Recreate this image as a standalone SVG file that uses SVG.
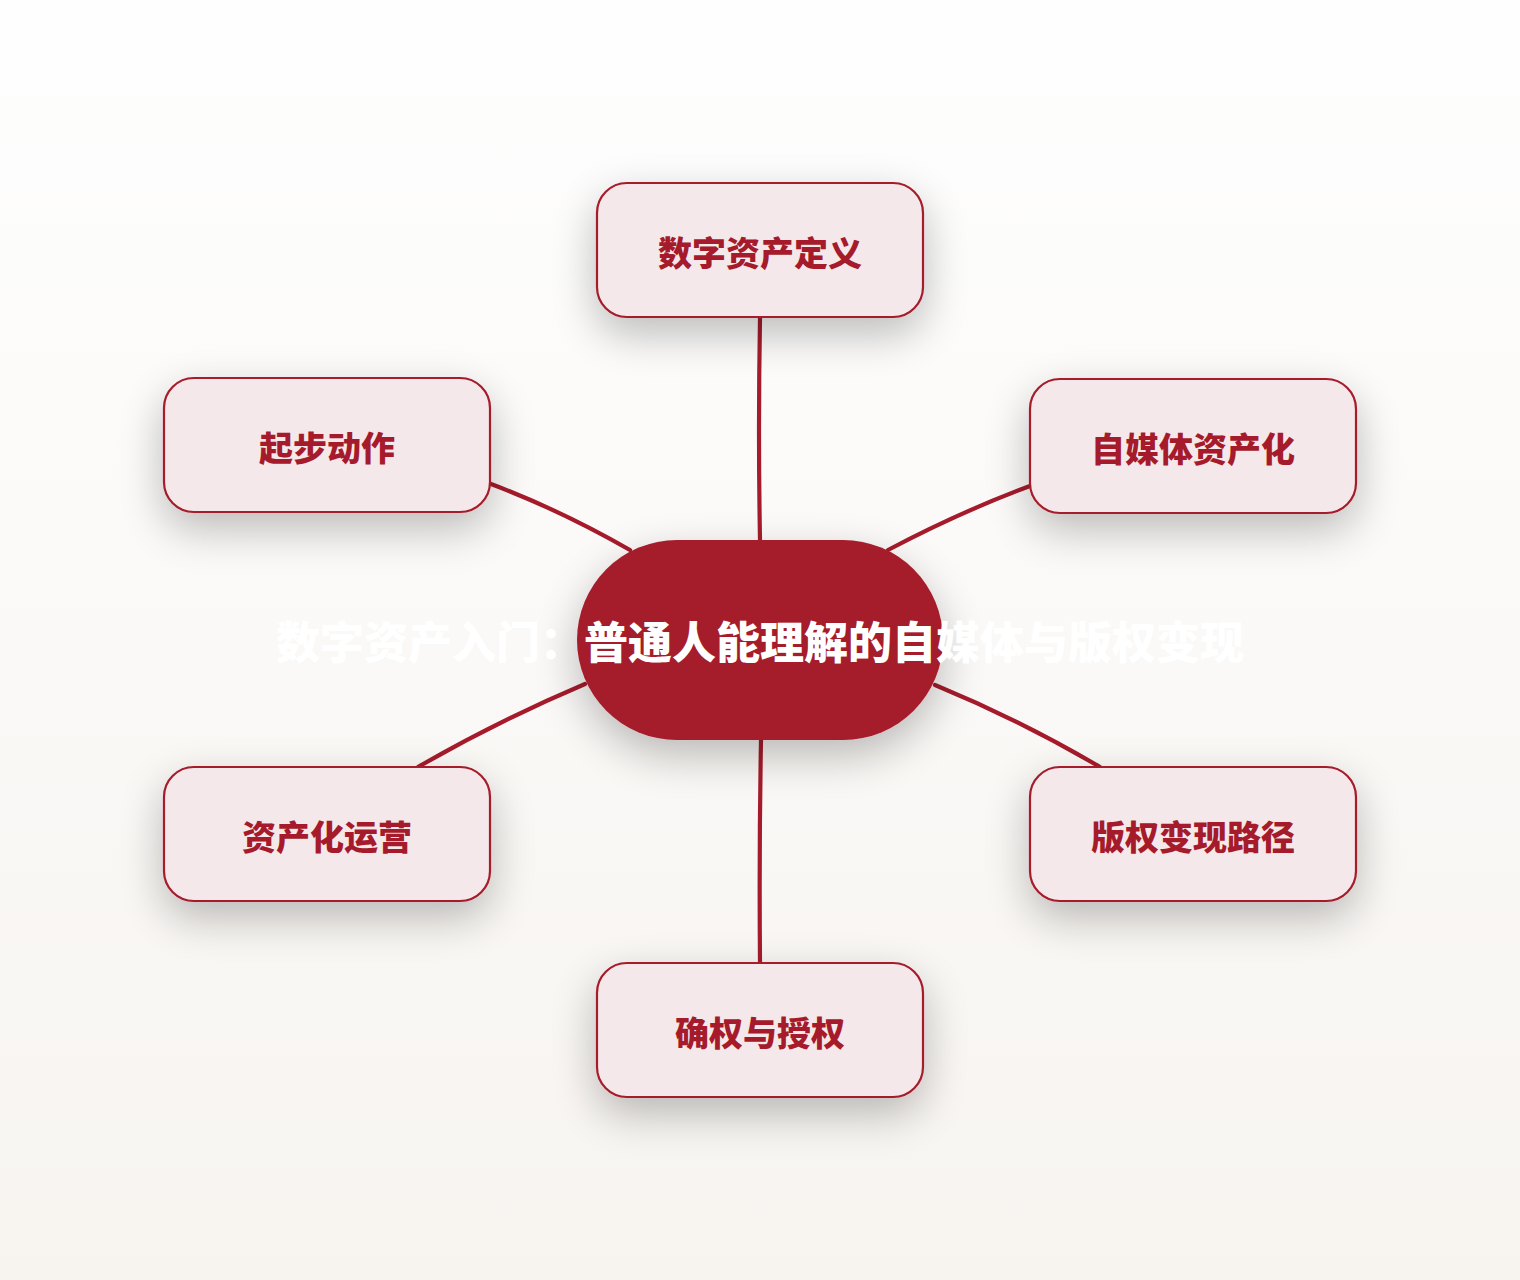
<svg xmlns="http://www.w3.org/2000/svg" width="1520" height="1280" viewBox="0 0 1520 1280">
<defs>
<linearGradient id="bg" x1="0" y1="0" x2="0" y2="1">
<stop offset="0" stop-color="#fefefe"/>
<stop offset="1" stop-color="#f7f4f0"/>
</linearGradient>
<filter id="sh" x="-40%" y="-50%" width="180%" height="220%">
<feGaussianBlur in="SourceAlpha" stdDeviation="22"/>
<feOffset dx="0" dy="16" result="b"/>
<feComponentTransfer><feFuncA type="linear" slope="0.26"/></feComponentTransfer>
<feMerge><feMergeNode/><feMergeNode in="SourceGraphic"/></feMerge>
</filter>
<style>
.node rect{fill:#f5e8ea;stroke:#a51b2b;stroke-width:2.2}
.node text{fill:#a51b2b;font-family:"Noto Sans CJK SC","Noto Sans",sans-serif;font-weight:900;font-size:34px;text-anchor:middle;dominant-baseline:central}
.edge{fill:none;stroke:#a51b2b;stroke-width:4.2;stroke-linecap:round}
.title{fill:#ffffff;font-family:"Noto Sans CJK SC","Noto Sans",sans-serif;font-weight:900;font-size:44px;text-anchor:middle;dominant-baseline:central}
</style>
</defs>
<rect width="1520" height="1280" fill="url(#bg)"/>
<g id="connectors">
<path class="edge" d="M760,318 Q758,430 760,540"/>
<path class="edge" d="M491,484 Q560,510 630,550"/>
<path class="edge" d="M1030,486 Q960,512 888,550"/>
<path class="edge" d="M585,684 Q500,720 418,767"/>
<path class="edge" d="M935,685 Q1020,720 1100,767"/>
<path class="edge" d="M761,740 Q759,850 760,963"/>
</g>
<g id="center">
<rect x="577" y="540" width="366" height="200" rx="100" fill="#a51b2b" filter="url(#sh)"/>
<text class="title" x="760" y="640">数字资产入门：普通人能理解的自媒体与版权变现</text>
</g>
<g id="n1" class="node"><rect x="597" y="183" width="326" height="134" rx="30" filter="url(#sh)"/><text x="760" y="251">数字资产定义</text></g>
<g id="n2" class="node"><rect x="1030" y="379" width="326" height="134" rx="30" filter="url(#sh)"/><text x="1193" y="447">自媒体资产化</text></g>
<g id="n3" class="node"><rect x="1030" y="767" width="326" height="134" rx="30" filter="url(#sh)"/><text x="1193" y="835">版权变现路径</text></g>
<g id="n4" class="node"><rect x="597" y="963" width="326" height="134" rx="30" filter="url(#sh)"/><text x="760" y="1031">确权与授权</text></g>
<g id="n5" class="node"><rect x="164" y="767" width="326" height="134" rx="30" filter="url(#sh)"/><text x="327" y="835">资产化运营</text></g>
<g id="n6" class="node"><rect x="164" y="378" width="326" height="134" rx="30" filter="url(#sh)"/><text x="327" y="446">起步动作</text></g>
</svg>
